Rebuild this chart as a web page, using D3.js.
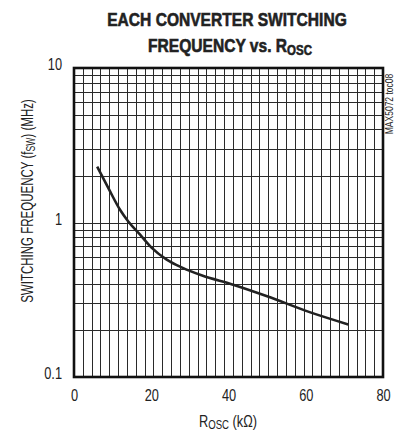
<!DOCTYPE html>
<html>
<head>
<meta charset="utf-8">
<script src="https://cdn.jsdelivr.net/npm/d3@7/dist/d3.min.js"></script>
<style>
  html, body { margin: 0; padding: 0; background: #fff; }
  svg text { font-family: "Liberation Sans Narrow", "Arial Narrow", "Liberation Sans", sans-serif; fill: #222; }
</style>
</head>
<body>
<svg id="chart" width="395" height="434"></svg>
<script>
// R_OSC (kΩ) and the resulting per-converter switching frequency (MHz)
const roscValues = [6, 9, 12, 14, 17, 20, 24, 28, 33, 41, 50, 61, 71];
const freqValues = [2.3, 1.65, 1.2, 1.02, 0.84, 0.69, 0.575, 0.51, 0.455, 0.397, 0.333, 0.263, 0.219];

const xTickValues = [0, 20, 40, 60, 80];
const yTickValues = [0.1, 1, 10];
const yTickLabels = ["0.1", "1", "10"];

const svg = d3.select("#chart");
const plot = { left: 74, right: 383, top: 68, bottom: 377 };
const condense = 0.8; // horizontal squeeze giving a narrow face

const x = d3.scaleLinear().domain([0, 80]).range([plot.left, plot.right]);
const y = d3.scaleLog().domain([0.1, 10]).range([plot.bottom, plot.top]);

// vertical grid: 35 equal divisions across the x span
const vGrid = d3.range(1, 35).map(i => i * 80 / 35);
// horizontal grid: 2..9 in each decade, plus the 1 MHz line
const hGrid = [1];
[0.1, 1].forEach(d => { for (let k = 2; k <= 9; k++) hGrid.push(d * k); });

const grid = svg.append("g").attr("stroke", "#2a2a2a").attr("stroke-width", 1);
grid.selectAll("line.v").data(vGrid).join("line")
  .attr("x1", d => Math.round(x(d)) + 0.5).attr("x2", d => Math.round(x(d)) + 0.5)
  .attr("y1", plot.top).attr("y2", plot.bottom);
grid.selectAll("line.h").data(hGrid).join("line")
  .attr("y1", d => Math.round(y(d)) + 0.5).attr("y2", d => Math.round(y(d)) + 0.5)
  .attr("x1", plot.left).attr("x2", plot.right);

// curve
const line = d3.line().x((d, i) => x(roscValues[i])).y(d => y(d)).curve(d3.curveMonotoneX);
svg.append("path").datum(freqValues)
  .attr("d", line).attr("fill", "none").attr("stroke", "#222").attr("stroke-width", 2.6)
  .attr("stroke-linecap", "butt");

// frame
svg.append("rect").attr("x", plot.left).attr("y", plot.top)
  .attr("width", plot.right - plot.left).attr("height", plot.bottom - plot.top)
  .attr("fill", "none").attr("stroke", "#111").attr("stroke-width", 2.6);

// axes (labels only, the frame carries the lines)
const xAxis = d3.axisBottom(x).tickValues(xTickValues).tickSize(0).tickPadding(13).tickFormat(d3.format("d"));
const xg = svg.append("g").attr("transform", `translate(0,${plot.bottom})`).call(xAxis);
xg.select(".domain").remove();
xg.selectAll("text").attr("font-size", 16).attr("font-family", null).attr("fill", "#333")
  .attr("transform", `scale(${condense},1)`);

const yAxis = d3.axisLeft(y).tickValues(yTickValues).tickSize(0).tickPadding(15)
  .tickFormat((d, i) => yTickLabels[i]);
const yg = svg.append("g").attr("transform", `translate(${plot.left},0)`).call(yAxis);
yg.select(".domain").remove();
yg.selectAll("text").attr("font-size", 16).attr("font-family", null).attr("fill", "#333")
  .attr("dy", "0.1em").attr("transform", `scale(${condense},1)`);

// title (heavy condensed look: bold face plus a thin outline)
const t1 = svg.append("g").attr("transform", "translate(227,0) scale(0.82,1)");
t1.append("text").attr("x", 0).attr("y", 26).attr("text-anchor", "middle")
  .attr("font-weight", "bold").attr("font-size", 19)
  .attr("stroke", "#222").attr("stroke-width", 0.6).text("EACH CONVERTER SWITCHING");
const t2 = svg.append("g").attr("transform", "translate(230,0) scale(0.82,1)")
  .append("text").attr("x", 0).attr("y", 52).attr("text-anchor", "middle")
  .attr("font-weight", "bold").attr("font-size", 19)
  .attr("stroke", "#222").attr("stroke-width", 0.6);
t2.append("tspan").text("FREQUENCY vs. R");
t2.append("tspan").attr("font-size", 14).attr("dy", 3).text("OSC");

// x axis title
const xt = svg.append("g").attr("transform", `translate(228,427) scale(${condense},1)`)
  .append("text").attr("text-anchor", "middle").attr("font-size", 16).attr("fill", "#333");
xt.append("tspan").text("R");
xt.append("tspan").attr("font-size", 12).attr("dy", 2).text("OSC");
xt.append("tspan").attr("dy", -2).text(" (kΩ)");

// y axis title
const yt = svg.append("g").attr("transform", "translate(33,201) rotate(-90) scale(0.72,1)")
  .append("text").attr("text-anchor", "middle").attr("font-size", 16).attr("fill", "#333");
yt.append("tspan").text("SWITCHING FREQUENCY (f");
yt.append("tspan").attr("font-size", 12).attr("dy", 2).text("SW");
yt.append("tspan").attr("dy", -2).text(") (MHz)");

// part tag
svg.append("g").attr("transform", "translate(393,104) rotate(-90) scale(0.85,1)")
  .append("text").attr("text-anchor", "middle").attr("font-size", 10).attr("fill", "#555")
  .text("MAX5072 toc08");
</script>
</body>
</html>
